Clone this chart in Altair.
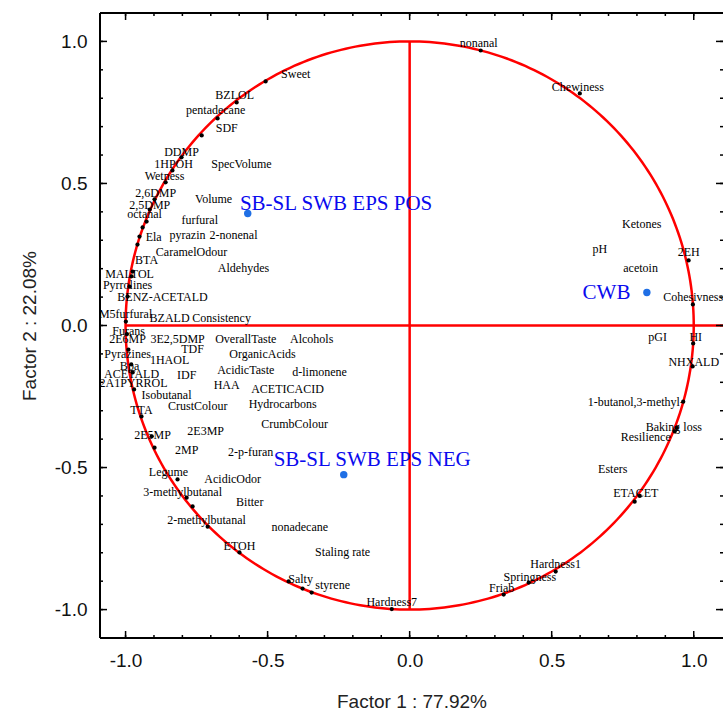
import altair as alt
import pandas as pd
import numpy as np

# ---------------- data ----------------
# variable labels and where their text sits (Factor 1, Factor 2 coordinates)
var_names = ["nonanal", "Chewiness", "Sweet", "BZLOL", "pentadecane",
             "SDF", "DDMP", "1HPOH", "SpecVolume", "Wetness",
             "2,6DMP", "Volume", "2,5DMP", "octanal", "furfural",
             "pyrazin", "2-nonenal", "Ela", "CaramelOdour", "BTA",
             "Aldehydes", "MALTOL", "Pyrrolines", "BENZ-ACETALD", "M5furfural",
             "BZALD", "Consistency", "Furans", "2E6MP", "3E2,5DMP",
             "OverallTaste", "Alcohols", "TDF", "OrganicAcids", "Pyrazines",
             "1HAOL", "Bpa", "AcidicTaste", "d-limonene", "ACETALD",
             "IDF", "2A1PYRROL", "HAA", "ACETICACID", "Isobutanal",
             "CrustColour", "Hydrocarbons", "TTA", "CrumbColour", "2E5MP",
             "2E3MP", "2MP", "2-p-furan", "Legume", "AcidicOdor",
             "3-methylbutanal", "Bitter", "2-methylbutanal", "nonadecane", "ETOH",
             "Staling rate", "Salty", "styrene", "Hardness7", "Friab",
             "Springness", "Hardness1", "1-butanol,3-methyl-", "Baking loss", "Resilience",
             "Esters", "ETACET", "Ketones", "pH", "2EH",
             "acetoin", "Cohesivness", "pGI", "HI", "NHXALD"]
var_lx = [0.243, 0.592, -0.401, -0.616, -0.683,
          -0.644, -0.803, -0.831, -0.592, -0.863,
          -0.894, -0.690, -0.915, -0.933, -0.739,
          -0.782, -0.620, -0.901, -0.768, -0.926,
          -0.585, -0.986, -0.993, -0.870, -1.000,
          -0.845, -0.662, -0.989, -0.993, -0.817,
          -0.577, -0.345, -0.764, -0.518, -0.993,
          -0.845, -0.986, -0.577, -0.317, -0.979,
          -0.785, -0.972, -0.644, -0.430, -0.856,
          -0.746, -0.447, -0.944, -0.405, -0.905,
          -0.718, -0.785, -0.560, -0.849, -0.623,
          -0.799, -0.563, -0.715, -0.387, -0.599,
          -0.236, -0.384, -0.271, -0.063, 0.324,
          0.423, 0.514, 0.796, 0.930, 0.831,
          0.715, 0.796, 0.817, 0.669, 0.982,
          0.813, 0.998, 0.873, 1.007, 1.000]
var_ly = [0.996, 0.838, 0.884, 0.810, 0.757,
          0.694, 0.609, 0.567, 0.567, 0.528,
          0.465, 0.447, 0.423, 0.391, 0.370,
          0.317, 0.320, 0.310, 0.257, 0.229,
          0.204, 0.183, 0.141, 0.099, 0.042,
          0.028, 0.028, -0.018, -0.049, -0.049,
          -0.046, -0.049, -0.081, -0.099, -0.099,
          -0.123, -0.141, -0.155, -0.162, -0.169,
          -0.173, -0.204, -0.208, -0.222, -0.243,
          -0.282, -0.275, -0.296, -0.345, -0.387,
          -0.370, -0.437, -0.444, -0.514, -0.542,
          -0.585, -0.620, -0.683, -0.708, -0.775,
          -0.799, -0.894, -0.915, -0.975, -0.923,
          -0.887, -0.838, -0.268, -0.356, -0.391,
          -0.504, -0.588, 0.359, 0.268, 0.257,
          0.204, 0.102, -0.042, -0.042, -0.127]

# variable loadings (the black dots on the correlation circle)
dot_x = [0.250, 0.599, -0.507, -0.609, -0.676, -0.732, -0.803, -0.835, -0.859, -0.898,
         -0.915, -0.926, -0.940, -0.951, -0.958, -0.975, -0.979, -0.986, -0.993, -0.999,
         -0.995, -0.990, -0.980, -0.975, -0.970, -0.944, -0.908, -0.898, -0.817, -0.785,
         -0.764, -0.711, -0.599, -0.426, -0.377, -0.345, -0.063, 0.331, 0.419, 0.514,
         0.792, 0.810, 0.933, 0.940, 0.963, 0.996, 0.998, 0.997, 0.982]
dot_y = [0.968, 0.817, 0.859, 0.785, 0.729, 0.669, 0.592, 0.546, 0.504, 0.444,
         0.408, 0.366, 0.345, 0.313, 0.285, 0.190, 0.173, 0.137, 0.102, 0.014,
         -0.030, -0.085, -0.137, -0.165, -0.225, -0.320, -0.390, -0.430, -0.542, -0.606,
         -0.637, -0.708, -0.799, -0.901, -0.926, -0.940, -0.998, -0.947, -0.905, -0.866,
         -0.620, -0.600, -0.373, -0.360, -0.268, -0.144, -0.063, 0.074, 0.229]

# sample groups (blue)
group_names = ["SB-SL SWB EPS POS", "SB-SL SWB EPS NEG", "CWB"]
group_x = [-0.570, -0.232, 0.835]
group_y = [0.394, -0.525, 0.116]
group_lx = [-0.259, -0.132, 0.693]
group_ly = [0.426, -0.472, 0.113]

# reference cross
cross_x = [-1.0, 0.0]
cross_x2 = [1.103, 0.0]
cross_y = [0.0, -1.0]
cross_y2 = [0.0, 1.0]

# axis ticks
tick_vals = [round(-1.0 + 0.1 * i, 1) for i in range(21)]
major_vals = [-1.0, -0.5, 0.0, 0.5, 1.0]

# ---------------- build ----------------
W, H = 623, 625
XS = alt.Scale(domain=[-1.09, 1.103], nice=False, zero=False)
YS = alt.Scale(domain=[-1.1, 1.1], nice=False, zero=False)

lab_expr = "datum.value < 0 ? '-' + format(-datum.value, '.1f') : format(datum.value, '.1f')"
XA = alt.Axis(values=major_vals, ticks=False, tickSize=0, domain=False, grid=False,
              labelExpr=lab_expr, labelFont="Liberation Sans", labelFontSize=19,
              labelColor="#111", labelPadding=13,
              title="Factor 1 : 77.92%", titleFont="Liberation Sans", titleFontSize=19,
              titleFontWeight="normal", titleColor="#222", titlePadding=22)
YA = alt.Axis(values=major_vals, ticks=False, tickSize=0, domain=False, grid=False,
              labelExpr=lab_expr, labelFont="Liberation Sans", labelFontSize=19,
              labelColor="#111", labelPadding=13,
              title="Factor 2 : 22.08%", titleFont="Liberation Sans", titleFontSize=19,
              titleFontWeight="normal", titleColor="#222", titlePadding=15)

vars_df = pd.DataFrame({"name": var_names, "lx": var_lx, "ly": var_ly})
dots_df = pd.DataFrame({"x": dot_x, "y": dot_y})
groups_df = pd.DataFrame({"name": group_names, "x": group_x, "y": group_y,
                          "lx": group_lx, "ly": group_ly})
cross_df = pd.DataFrame({"x": cross_x, "x2": cross_x2, "y": cross_y, "y2": cross_y2})
theta = np.linspace(0, 2 * np.pi, 361)
circle_df = pd.DataFrame({"i": np.arange(361), "x": np.cos(theta), "y": np.sin(theta)})
minor_df = pd.DataFrame({"x": tick_vals, "y": tick_vals})
major_df = pd.DataFrame({"x": major_vals, "y": major_vals})
one_df = pd.DataFrame({"a": [0]})


def X(f="x"):
    return alt.X(f"{f}:Q", scale=XS, axis=XA)


def Y(f="y"):
    return alt.Y(f"{f}:Q", scale=YS, axis=YA)


circle = alt.Chart(circle_df).mark_line(color="#ff0000", strokeWidth=2.5, clip=True).encode(
    x=X(), y=Y(), order="i:Q")

cross = alt.Chart(cross_df).mark_rule(color="#ff0000", strokeWidth=2.5, clip=True).encode(
    x=X(), x2="x2:Q", y=Y(), y2="y2:Q")

dots = alt.Chart(dots_df).mark_circle(color="black", size=18, opacity=1).encode(
    x=X(), y=Y())

labels = alt.Chart(vars_df).mark_text(
    font="Liberation Serif", fontSize=12, color="black",
    align="center", baseline="middle", clip=True).encode(
    x=X("lx"), y=Y("ly"), text="name:N")

gdots = alt.Chart(groups_df).mark_circle(color="#1f6fe5", size=55, opacity=1).encode(
    x=X(), y=Y())

glabels = alt.Chart(groups_df).mark_text(
    font="Liberation Serif", fontSize=21, color="#0a0aee",
    align="center", baseline="middle", clip=True).encode(
    x=X("lx"), y=Y("ly"), text="name:N")

# frame (left, top, bottom); right side lies at the window edge
frame_left = alt.Chart(one_df).mark_rule(color="black", strokeWidth=2).encode(
    x=alt.value(0), y=alt.value(0), y2=alt.value(H))
frame_top = alt.Chart(one_df).mark_rule(color="black", strokeWidth=2).encode(
    x=alt.value(0), x2=alt.value(W), y=alt.value(0))
frame_bottom = alt.Chart(one_df).mark_rule(color="black", strokeWidth=2).encode(
    x=alt.value(0), x2=alt.value(W), y=alt.value(H))


def tick_layers(df, ln):
    sw = 1.5
    b = alt.Chart(df).mark_rule(color="black", strokeWidth=sw).encode(
        x=X(), y=alt.value(H), y2=alt.value(H - ln))
    t = alt.Chart(df).mark_rule(color="black", strokeWidth=sw).encode(
        x=X(), y=alt.value(0), y2=alt.value(ln))
    l = alt.Chart(df).mark_rule(color="black", strokeWidth=sw).encode(
        y=Y(), x=alt.value(0), x2=alt.value(ln))
    r = alt.Chart(df).mark_rule(color="black", strokeWidth=sw).encode(
        y=Y(), x=alt.value(W), x2=alt.value(W - ln))
    return [b, t, l, r]


layers = [circle, cross, dots, labels, gdots, glabels,
          frame_left, frame_top, frame_bottom] + tick_layers(minor_df, 3) + tick_layers(major_df, 7)

chart = alt.layer(*layers).properties(
    width=W, height=H,
    autosize=alt.AutoSizeParams(type="none"),
    padding={"left": 100, "top": 13, "right": 0, "bottom": 75},
    background="white",
).configure_view(stroke=None)

chart.save("out.html", embed_options={"renderer": "svg", "actions": False})
